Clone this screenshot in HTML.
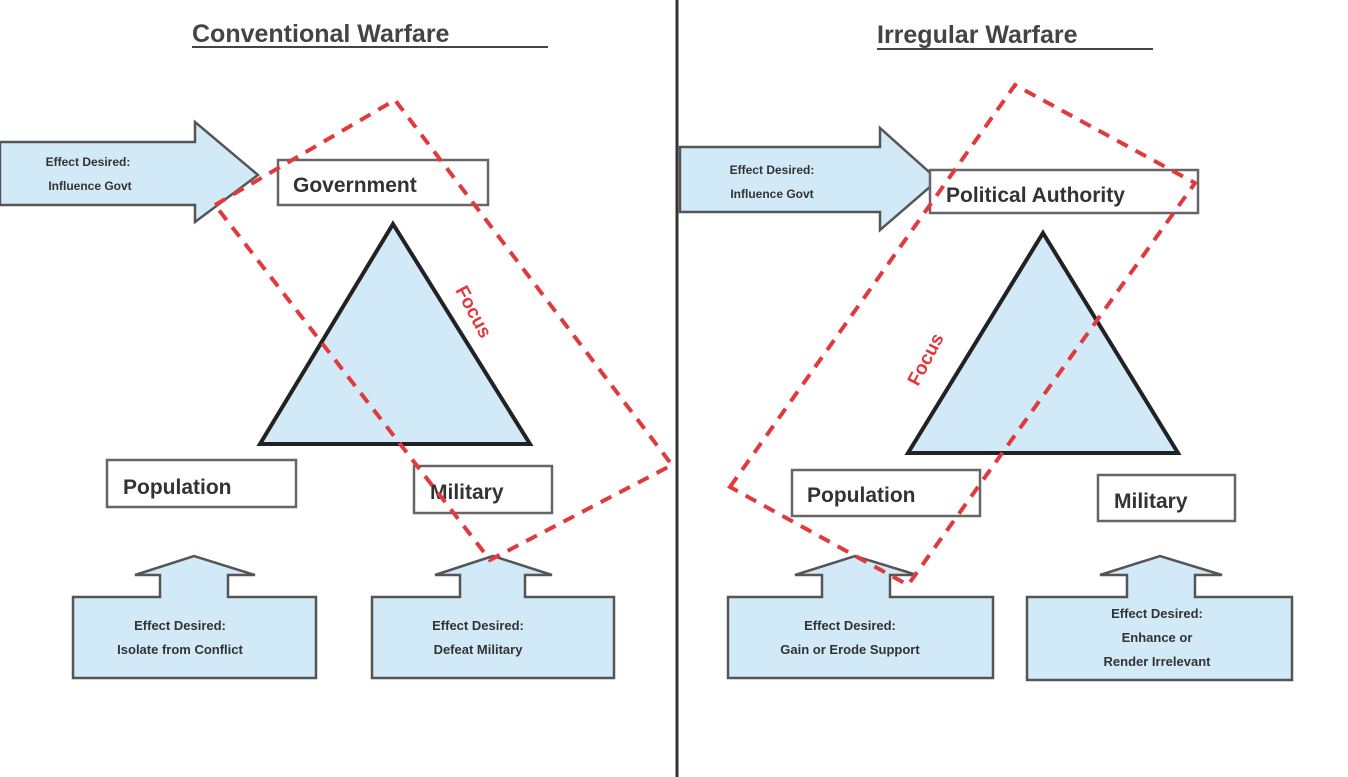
<!DOCTYPE html>
<html><head><meta charset="utf-8"><style>
html,body{margin:0;padding:0;background:#fff;}
svg{display:block;}
text{font-family:"Liberation Sans",sans-serif;font-weight:bold;fill:#333;}
</style></head><body>
<svg width="1348" height="777" viewBox="0 0 1348 777" xmlns="http://www.w3.org/2000/svg">
<rect width="1348" height="777" fill="#fff"/>
<line x1="677" y1="0" x2="677" y2="777" stroke="#333" stroke-width="3"/>

<!-- titles -->
<text x="192" y="42" font-size="25" style="fill:#444;font-family:'Liberation Sans Narrow','Liberation Sans',sans-serif">Conventional Warfare</text>
<line x1="192" y1="47" x2="548" y2="47" stroke="#444" stroke-width="2"/>
<text x="877" y="43" font-size="25" style="fill:#444;font-family:'Liberation Sans Narrow','Liberation Sans',sans-serif">Irregular Warfare</text>
<line x1="877" y1="49" x2="1153" y2="49" stroke="#444" stroke-width="2"/>

<g stroke="#555" stroke-width="2.5" fill="#d2e9f7">
<polygon points="0,142 195,142 195,122 258,175 195,222 195,205 0,205"/>
<polygon points="680,147 880,147 880,128 938,180 880,230 880,212 680,212"/>
<polygon points="393,224 530,444 260,444" stroke="#222" stroke-width="4"/>
<polygon points="1043,233 1178,453 908,453" stroke="#222" stroke-width="4"/>
<polygon points="73,597 160,597 160,575 135,575 194,556 255,575 228,575 228,597 316,597 316,678 73,678"/>
<polygon points="372,597 460,597 460,575 435,575 493,556 552,575 525,575 525,597 614,597 614,678 372,678"/>
<polygon points="728,597 822,597 822,575 795,575 855,556 917,575 890,575 890,597 993,597 993,678 728,678"/>
<polygon points="1027,597 1127,597 1127,575 1100,575 1160,556 1222,575 1195,575 1195,597 1292,597 1292,680 1027,680"/>
</g>

<g fill="#fff" stroke="#666" stroke-width="2.5">
<rect x="278" y="160" width="210" height="45"/>
<rect x="107" y="460" width="189" height="47"/>
<rect x="414" y="466" width="138" height="47"/>
<rect x="930" y="170" width="268" height="43"/>
<rect x="792" y="470" width="188" height="46"/>
<rect x="1098" y="475" width="137" height="46"/>
</g>

<text x="293" y="192" font-size="21">Government</text>
<text x="123" y="494" font-size="21">Population</text>
<text x="430" y="499" font-size="21">Military</text>
<text x="946" y="202" font-size="21">Political Authority</text>
<text x="807" y="502" font-size="21">Population</text>
<text x="1114" y="508" font-size="21">Military</text>

<g font-size="13" text-anchor="middle">
<text x="88" y="166" font-size="12">Effect Desired:</text>
<text x="90" y="190" font-size="12">Influence Govt</text>
<text x="772" y="174" font-size="12">Effect Desired:</text>
<text x="772" y="198" font-size="12">Influence Govt</text>
<text x="180" y="630">Effect Desired:</text>
<text x="180" y="654">Isolate from Conflict</text>
<text x="478" y="630">Effect Desired:</text>
<text x="478" y="654">Defeat Military</text>
<text x="850" y="630">Effect Desired:</text>
<text x="850" y="654">Gain or Erode Support</text>
<text x="1157" y="618">Effect Desired:</text>
<text x="1157" y="642">Enhance or</text>
<text x="1157" y="666">Render Irrelevant</text>
</g>

<g fill="none" stroke="#e03a3e" stroke-width="4" stroke-dasharray="12,9">
<polygon points="215,205 395,100 672,465 490,560"/>
<polygon points="730,487 1015,85 1195,183 908,585"/>
</g>
<text x="0" y="0" font-size="19" style="fill:#e03a3e" transform="translate(455,290) rotate(62)">Focus</text>
<text x="0" y="0" font-size="19" style="fill:#e03a3e" transform="translate(918,387) rotate(-62)">Focus</text>
</svg>
</body></html>
